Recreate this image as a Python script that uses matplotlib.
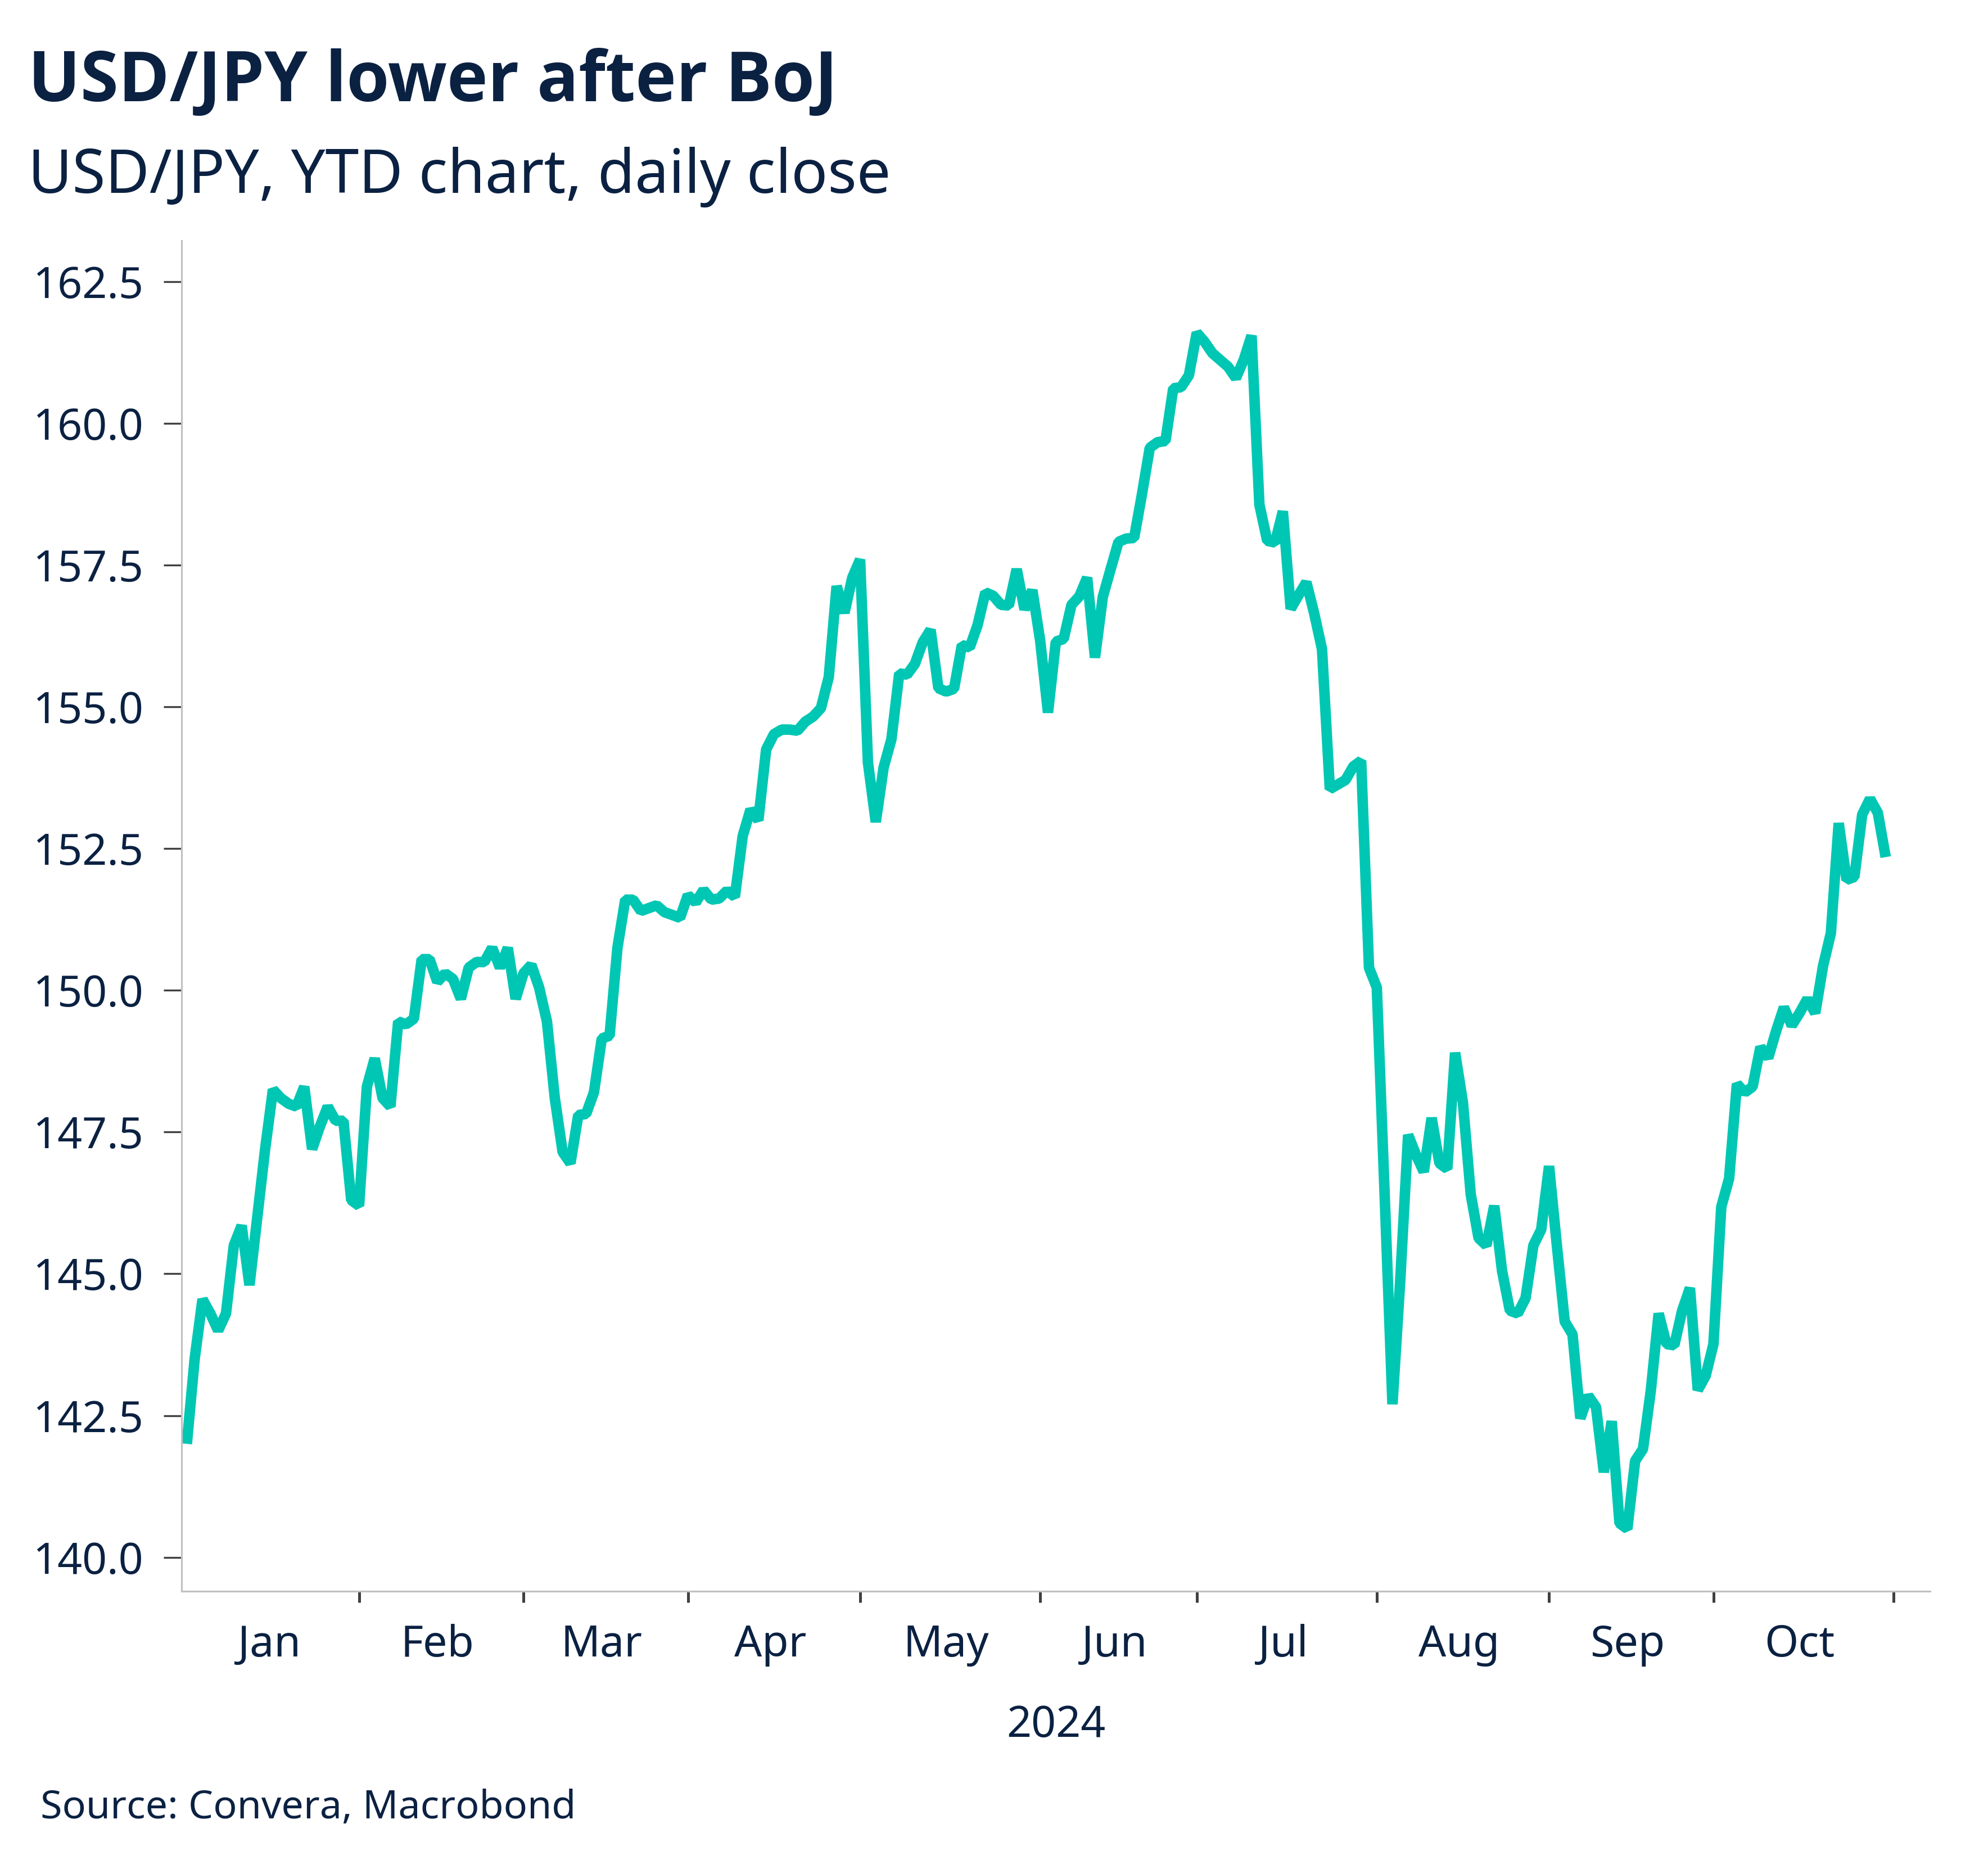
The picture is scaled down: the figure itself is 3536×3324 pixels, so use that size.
'''
    @Title: USD/JPY lower after BoJ - YTD daily close line chart.
'''

# Importing necessary libraries
import numpy as np
import pandas as pd
import matplotlib
matplotlib.use("Agg")
import matplotlib.pyplot as plt

# Daily closes, one list per month (weekdays only)
jan = [142.0, 143.5, 144.55, 144.3, 144.0, 144.3, 145.5, 145.85, 144.8, 146.0, 147.2,
       148.25, 148.1, 148.0, 147.95, 148.3, 147.2, 147.6, 147.95, 147.7, 147.7, 146.3]
feb = [146.2, 148.3, 148.8, 148.1, 147.95, 149.45, 149.4, 149.5, 150.55, 150.55, 150.15,
       150.3, 150.2, 149.85, 150.4, 150.5, 150.5, 150.75, 150.4, 150.75, 149.85]
mar = [150.3, 150.45, 150.05, 149.45, 148.1, 147.15, 146.95, 147.8, 147.82, 148.2, 149.15,
       149.2, 150.75, 151.6, 151.6, 151.4, 151.45, 151.5, 151.38, 151.33, 151.28]
apr = [151.68, 151.55, 151.77, 151.6, 151.62, 151.76, 151.65, 152.72, 153.19, 153.0, 154.25,
       154.52, 154.6, 154.6, 154.58, 154.74, 154.83, 154.98, 155.53, 157.13, 156.66, 157.28]
may = [157.6, 154.02, 152.97, 153.93, 154.43, 155.59, 155.57, 155.76, 156.14, 156.36, 155.33,
       155.27, 155.32, 156.09, 156.05, 156.44, 157.02, 156.96, 156.8, 156.79, 157.43, 156.72,
       157.06]
jun = [156.17, 154.9, 156.15, 156.2, 156.8, 156.95, 157.28, 155.87, 156.94, 157.43, 157.91,
       157.97, 157.98, 158.75, 159.57, 159.67, 159.69, 160.62, 160.64, 160.85]
jul = [161.6, 161.44, 161.24, 161.12, 161.0, 160.8, 161.12, 161.55, 158.57, 157.93, 157.9,
       158.45, 156.73, 156.97, 157.2, 156.65, 156.02, 153.55, 153.63, 153.71, 153.95, 154.05,
       150.4]
aug = [150.05, 146.4, 142.7, 144.9, 147.45, 147.1, 146.8, 147.75, 146.95, 146.85, 148.9,
       148.02, 146.4, 145.63, 145.5, 146.2, 145.05, 144.35, 144.3, 144.57, 145.5, 145.78]
sep = [146.9, 145.5, 144.16, 143.93, 142.45, 142.85, 142.65, 141.5, 142.4, 140.6, 140.5,
       141.7, 141.91, 142.94, 144.3, 143.76, 143.74, 144.35, 144.75, 142.95, 143.2]
oct_ = [143.76, 146.18, 146.68, 148.35, 148.2, 148.3, 149.0, 148.81, 149.28, 149.7, 149.38,
        149.6, 149.85, 149.6, 150.43, 151.01, 152.95, 151.95, 152.0, 153.1, 153.38, 153.13,
        152.35]

month_labels = ["Jan", "Feb", "Mar", "Apr", "May", "Jun", "Jul", "Aug", "Sep", "Oct"]
year_label = "2024"
y_ticks = [140.0, 142.5, 145.0, 147.5, 150.0, 152.5, 155.0, 157.5, 160.0, 162.5]

TEAL = "#00C7B3"
NAVY = "#0B2142"
FONT = ["Noto Sans", "DejaVu Sans"]
TITLE_FONT = ["Open Sans", "Lato", "Roboto", "DejaVu Sans"]


def create_chart():
    """
    Description:
    Draws the USD/JPY daily close line on a weekday axis and saves it as out.png.
    """
    values = jan + feb + mar + apr + may + jun + jul + aug + sep + oct_
    dates = pd.bdate_range("2024-01-02", "2024-10-31")
    x = np.arange(len(values))

    # first weekday of each month, plus the slot after the last day
    starts = [0] + [i for i in range(1, len(dates)) if dates[i].month != dates[i - 1].month]
    starts.append(len(dates))

    plt.rcParams["font.family"] = FONT
    fig = plt.figure(figsize=(3537 / 300, 3324 / 300), dpi=300)
    ax = fig.add_axes([0.0912, 0.1486, 0.8795, 0.7225])

    ax.plot(x, values, color=TEAL, linewidth=4.5, solid_joinstyle="bevel",
            solid_capstyle="butt")

    ax.set_xlim(-0.7, 222.7)
    ax.set_ylim(139.4, 163.22)

    # y axis
    ax.set_yticks(y_ticks)
    ax.set_yticklabels([f"{t:.1f}" for t in y_ticks])
    ax.tick_params(axis="y", direction="out", length=7.7, width=0.8, color="#404040",
                   labelsize=18.5, labelcolor=NAVY, pad=8.5)

    # x axis: tick marks at month boundaries, labels centred within each month
    ax.set_xticks(starts[1:])
    ax.set_xticklabels([])
    ax.tick_params(axis="x", which="major", direction="out", length=4.8, width=1.2,
                   color="#404040")
    centers = [(starts[i] + starts[i + 1]) / 2 - 0.5 for i in range(len(month_labels))]
    ax.set_xticks(centers, minor=True)
    ax.set_xticklabels(month_labels, minor=True)
    ax.tick_params(axis="x", which="minor", length=0, labelsize=18.5, labelcolor=NAVY, pad=14)
    ax.set_xlabel(year_label, fontsize=18.5, color=NAVY, labelpad=16)

    for side in ["top", "right"]:
        ax.spines[side].set_visible(False)
    for side in ["left", "bottom"]:
        ax.spines[side].set_color("#C0C0C0")
        ax.spines[side].set_linewidth(0.75)

    # Title, subtitle and source
    fig.text(0.014, 0.9457, "USD/JPY lower after BoJ", fontsize=29.5, fontweight="bold",
             family=TITLE_FONT, color=NAVY, va="baseline", ha="left")
    fig.text(0.014, 0.8969, "USD/JPY, YTD chart, daily close", fontsize=25.8,
             color=NAVY, va="baseline", ha="left")
    fig.text(0.0204, 0.0271, "Source: Convera, Macrobond", fontsize=16.8,
             color=NAVY, va="baseline", ha="left")

    fig.savefig("out.png", dpi=300)


def main():
    create_chart()


if __name__ == "__main__":
    main()
